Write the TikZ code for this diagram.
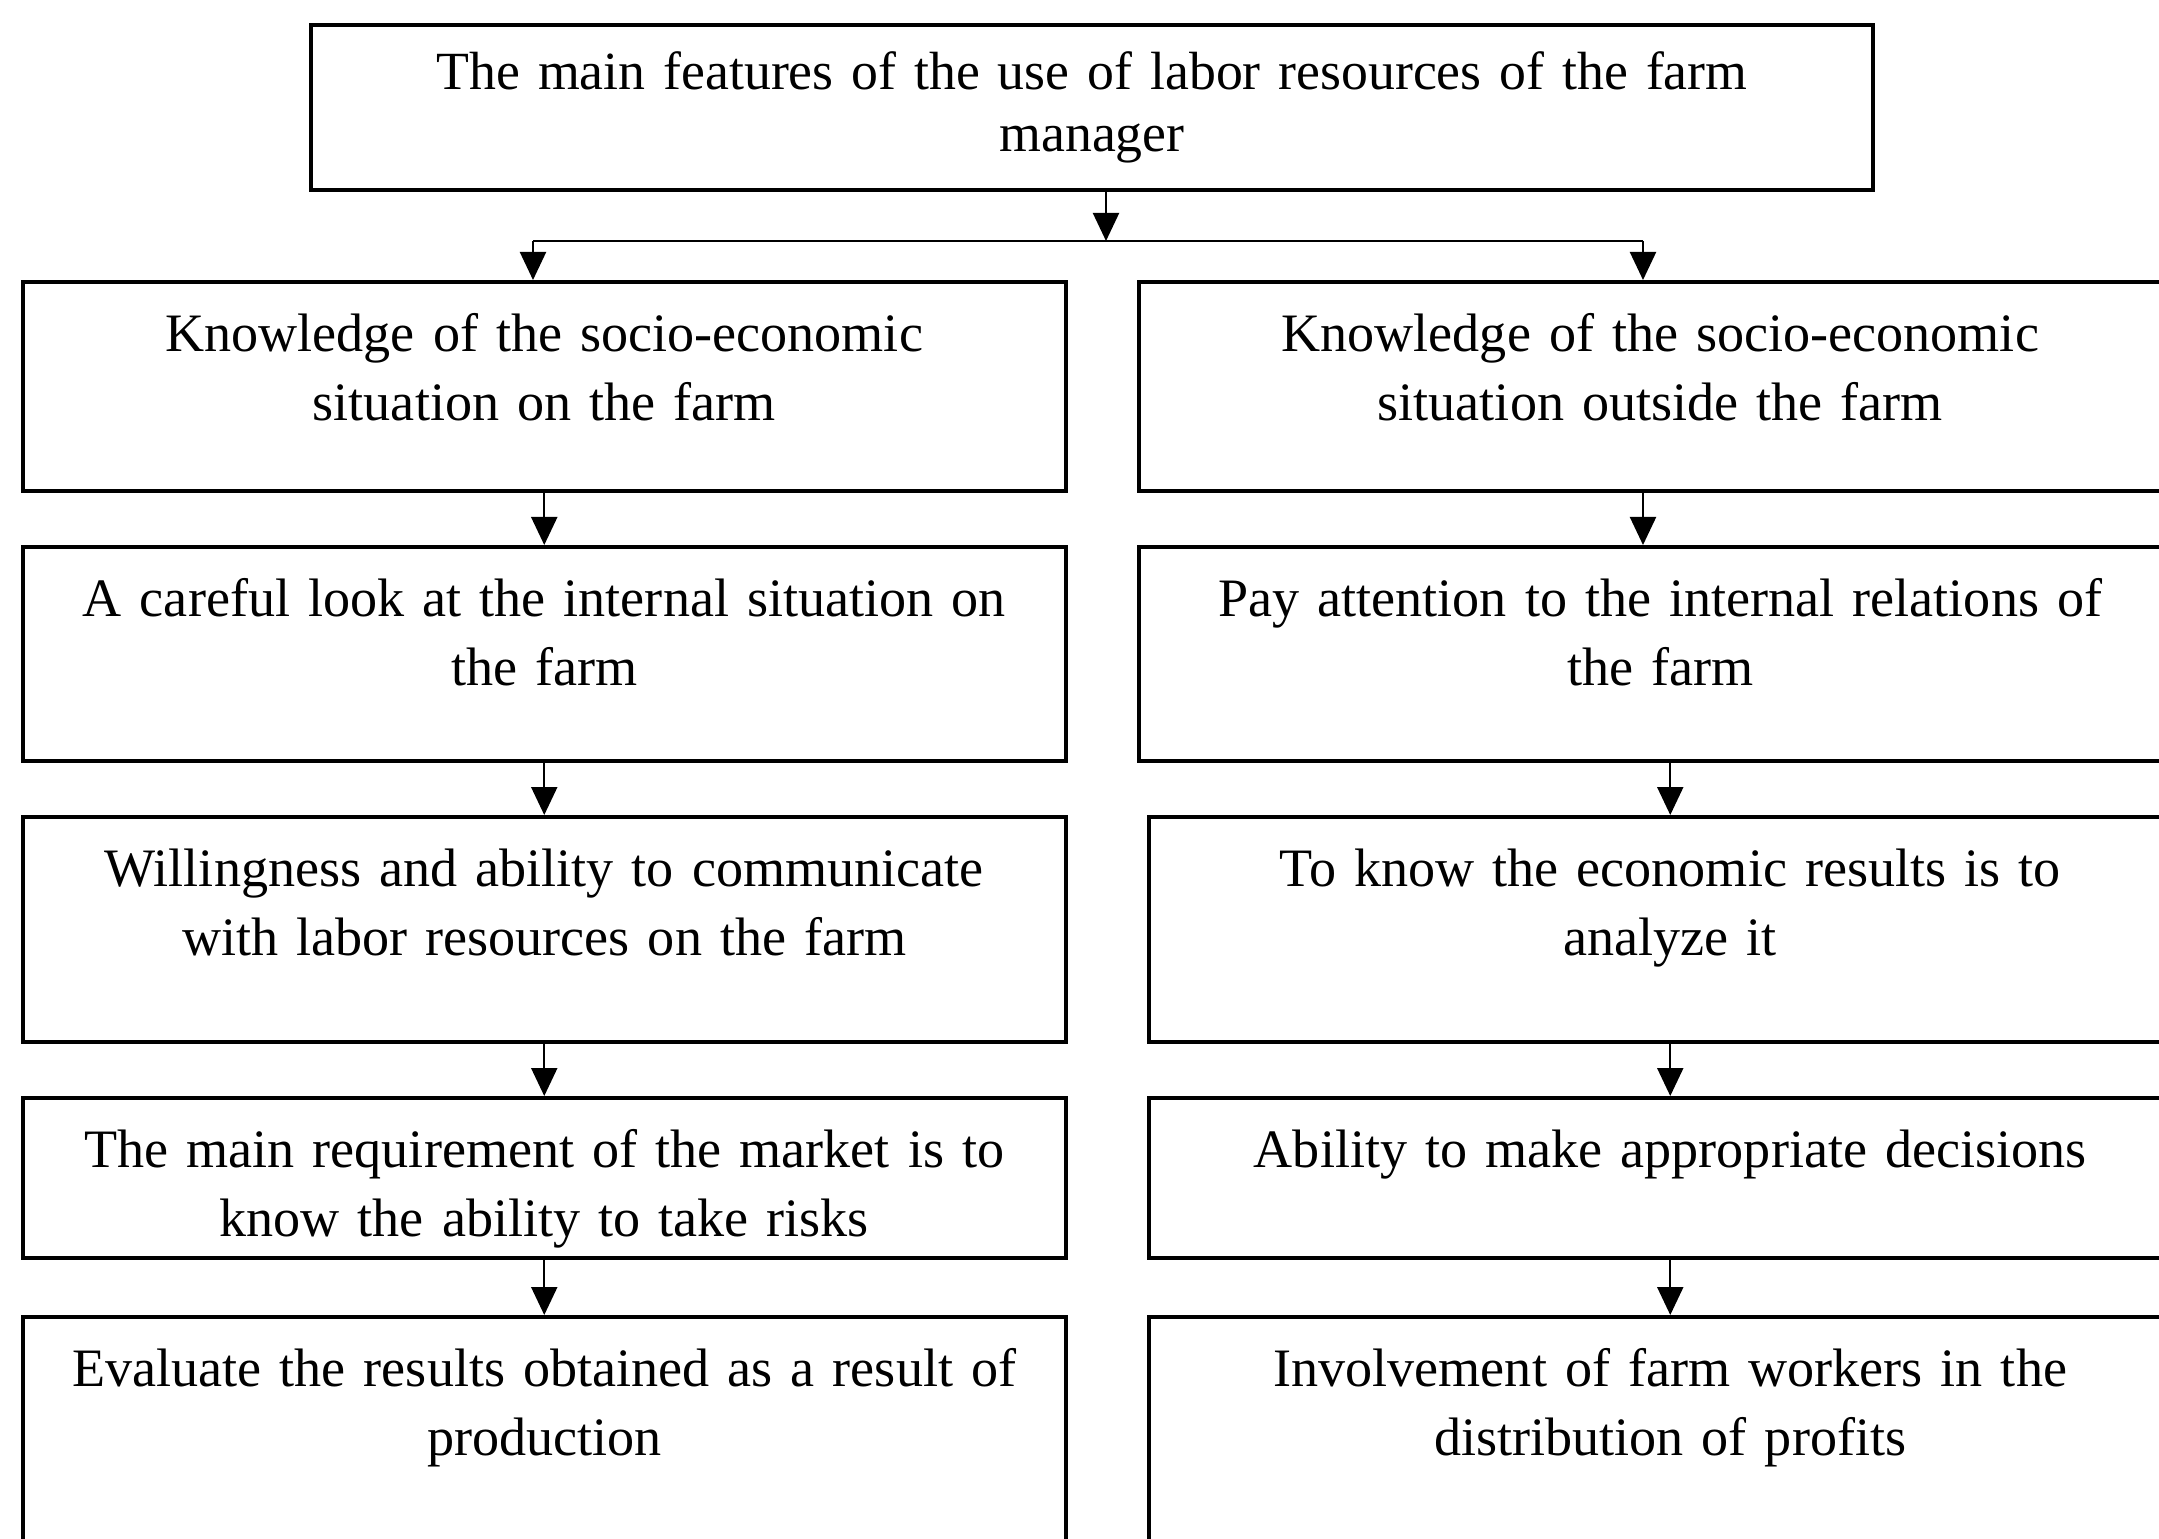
\documentclass[tikz,border=0pt]{standalone}
\usepackage{fontspec}
\setmainfont{Liberation Serif}
\usetikzlibrary{arrows.meta,positioning}

\begin{document}
\begin{tikzpicture}[
    box/.style={
      draw,
      line width=1pt,
      align=center,
      inner sep=0pt,
      font=\fontsize{15.4}{19.6}\selectfont,
    },
    feature/.style={
      box,
      anchor=north west,
      text width=9.9cm,
      minimum width=10.43cm,
      text height=0.70cm,
      text depth=#1,
    },
    link/.style={-{Triangle[length=2.8mm,width=2.6mm]},line width=0.6pt},
  ]
  \clip (0,0) rectangle (21.59,-15.39);

  \node[box,text width=15cm,minimum width=15.62cm,minimum height=1.65cm,
    font=\fontsize{15.3}{17.6}\selectfont] (main) at (10.92,-1.075)
    {The main features of the use of labor resources of the farm\\manager};

  \foreach[count=\i] \y/\d/\txt in
  {2.80/1.39cm/{Knowledge of the socio-economic\\situation on the farm},
   5.45/1.44cm/{A careful look at the internal situation on\\the farm},
   8.15/1.55cm/{Willingness and ability to communicate\\with labor resources on the farm},
   10.96/0.90cm/{The main requirement of the market is to\\know the ability to take risks},
   13.15/2.30cm/{Evaluate the results obtained as a result of\\production}}
  {
    \node[feature=\d] (left\i) at (0.21,-\y) {\txt};
  }

  \foreach[count=\i] \x/\y/\d/\txt in
  {11.37/2.80/1.39cm/{Knowledge of the socio-economic\\situation outside the farm},
   11.37/5.45/1.44cm/{Pay attention to the internal relations of\\the farm},
   11.47/8.15/1.55cm/{To know the economic results is to\\analyze it},
   11.47/10.96/0.90cm/{Ability to make appropriate decisions},
   11.47/13.15/2.30cm/{Involvement of farm workers in the\\distribution of profits}}
  {
    \node[feature=\d] (right\i) at (\x,-\y) {\txt};
  }

  \coordinate (split) at (11.06,-2.41);
  \coordinate (ljoin) at (5.33,-2.41);
  \coordinate (rjoin) at (16.43,-2.41);
  \draw[link] (main.south -| split) -- (split);
  \draw[line width=0.6pt] (ljoin) -- (rjoin);
  \draw[link] (ljoin) -- (ljoin |- left1.north);
  \draw[link] (rjoin) -- (rjoin |- right1.north);
  \draw[link] (rjoin |- right1.south) -- (rjoin |- right2.north);
  \foreach \i/\j in {1/2,2/3,3/4,4/5}
    \draw[link] (left\i.south) -- (left\j.north);
  \foreach \i/\j in {2/3,3/4,4/5}
    \draw[link] (right\j.north |- right\i.south) -- (right\j.north);
\end{tikzpicture}
\end{document}
